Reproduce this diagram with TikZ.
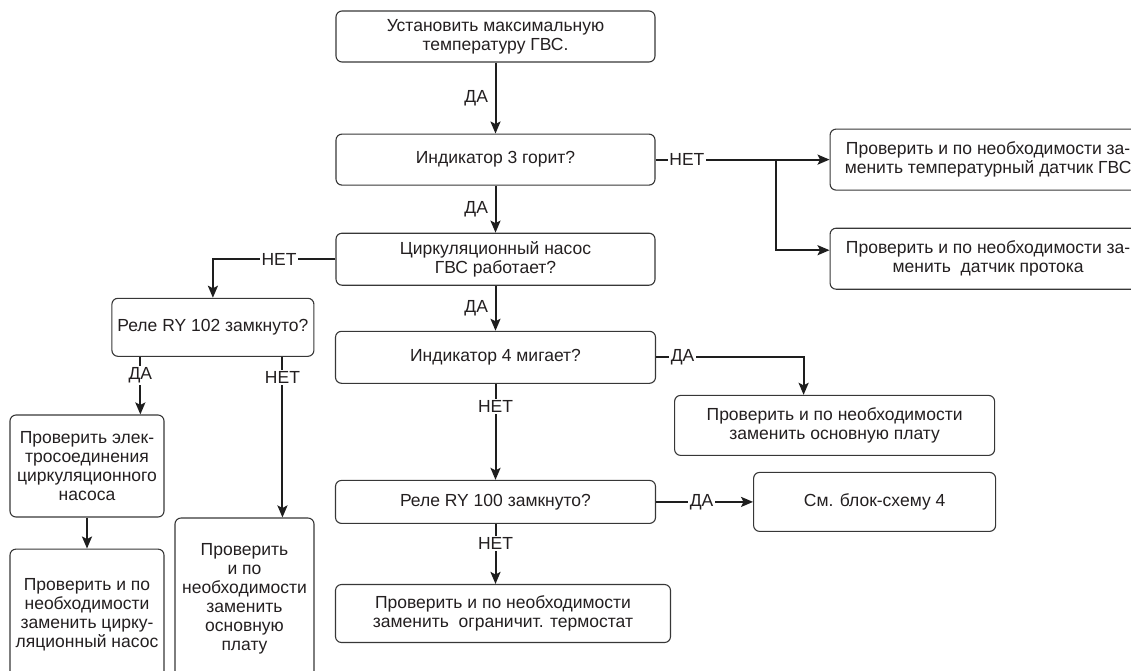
\documentclass[tikz,border=0pt]{standalone}
\usepackage{fontspec}
\setmainfont{Liberation Sans}
\usetikzlibrary{arrows.meta,positioning,calc}
\definecolor{fcedge}{RGB}{55,55,55}
\definecolor{fcline}{RGB}{30,30,30}
\definecolor{fcink}{RGB}{35,31,32}
\tikzset{
  fcbox/.style={
    draw=fcedge, line width=1.1pt, rounded corners=6pt,
    align=center, inner sep=0pt, text=fcink,
    font=\fontsize{17.5}{19}\selectfont
  },
  arr/.style={-{Stealth[length=12pt,width=10pt,inset=2.5pt]}, draw=fcline, line width=2pt},
  lne/.style={draw=fcline, line width=2pt},
  yn/.style={fill=white, inner sep=1.5pt, text=fcink, font=\fontsize{17.5}{19}\selectfont},
  ynl/.style={yn, fill=none, left=5pt}
}
\begin{document}
\begin{tikzpicture}[x=1pt, y=1pt, node distance=40pt]
  \useasboundingbox (0,0) rectangle (1131,-670);
  \clip (0,0) rectangle (1131,-670);
  \node[fcbox, minimum width=319pt, minimum height=51pt] (start) at (495.5,-36.5)
    {Установить максимальную\\температуру ГВС.};
  \node[fcbox, minimum width=319pt, minimum height=51pt, below=71pt of start] (ind3)
    {Индикатор 3 горит?};
  \node[fcbox, minimum width=319pt, minimum height=52pt, below=47pt of ind3] (pump)
    {Циркуляционный насос\\ГВС работает?};
  \node[fcbox, minimum width=320pt, minimum height=52pt, below=45pt of pump] (ind4)
    {Индикатор 4 мигает?};
  \node[fcbox, minimum width=320pt, minimum height=43pt, below=96pt of ind4] (ry100)
    {Реле RY 100 замкнуто?};
  \node[fcbox, minimum width=335pt, minimum height=58pt,
    below right=60pt and 0pt of ry100.south west] (limit)
    {Проверить и по необходимости\\заменить~ ограничит. термостат};
  \node[fcbox, minimum width=242pt, minimum height=59pt, right=97pt of ry100] (scheme)
    {См. блок-схему 4};
  \node[fcbox, minimum width=320pt, minimum height=60pt,
    below right=11pt and 18pt of ind4.south east] (board)
    {Проверить и по необходимости\\заменить основную плату};
  \node[fcbox, minimum width=316pt, minimum height=61pt, right=174pt of ind3] (sensor)
    {Проверить и по необходимости за-\\менить температурный датчик ГВС};
  \node[fcbox, minimum width=316pt, minimum height=61pt, below=37pt of sensor] (flow)
    {Проверить и по необходимости за-\\менить~ датчик протока};
  \node[fcbox, minimum width=202pt, minimum height=58pt,
    below left=12pt and 21pt of pump.south west] (ry102)
    {Реле RY 102 замкнуто?};
  \node[fcbox, minimum width=154pt, minimum height=102pt] (elec) at (87,-466)
    {Проверить элек-\\тросоединения\\циркуляционного\\насоса};
  \node[fcbox, minimum width=154pt, minimum height=132pt, below=31pt of elec] (pumprep)
    {Проверить и по\\необходимости\\заменить цирку-\\ляционный насос};
  \node[fcbox, minimum width=139pt, minimum height=162pt] (board2) at (244.5,-599)
    {Проверить\\и по\\необходимости\\заменить\\основную\\плату};

  \draw[arr] (start) -- node[ynl] {ДА} (ind3);
  \draw[arr] (ind3) -- node[ynl] {ДА} (pump);
  \draw[arr] (pump) -- node[ynl] {ДА} (ind4);
  \draw[arr] (ind4) -- node[yn, pos=0.24] {НЕТ} (ry100);
  \draw[arr] (ry100) -- node[yn, pos=0.32] {НЕТ} (limit.north -| ry100.south);
  \draw[arr] (ry100) -- node[yn, pos=0.47] {ДА} (scheme);
  \draw[arr] (ind4.east) -| node[yn, pos=0.09] {ДА} ([xshift=-31pt]board.north);
  \draw[arr] (ind3) -- node[yn, pos=0.18] {НЕТ} (sensor);
  \coordinate (split) at ($(ind3.east)+(120pt,0)$);
  \draw[arr] (split) |- ([yshift=8.5pt]flow.west);
  \draw[arr] (pump.west) -| node[yn, pos=0.23] {НЕТ} (ry102.north);
  \draw[arr] ([xshift=29pt]ry102.south west) --
    node[yn, pos=0.32] {ДА} ([xshift=29pt]ry102.south west |- elec.north);
  \draw[arr] ([xshift=-32pt]ry102.south east) --
    node[yn, pos=0.13] {НЕТ} ([xshift=-32pt]ry102.south east |- board2.north);
  \draw[arr] (elec) -- (pumprep);
\end{tikzpicture}
\end{document}
